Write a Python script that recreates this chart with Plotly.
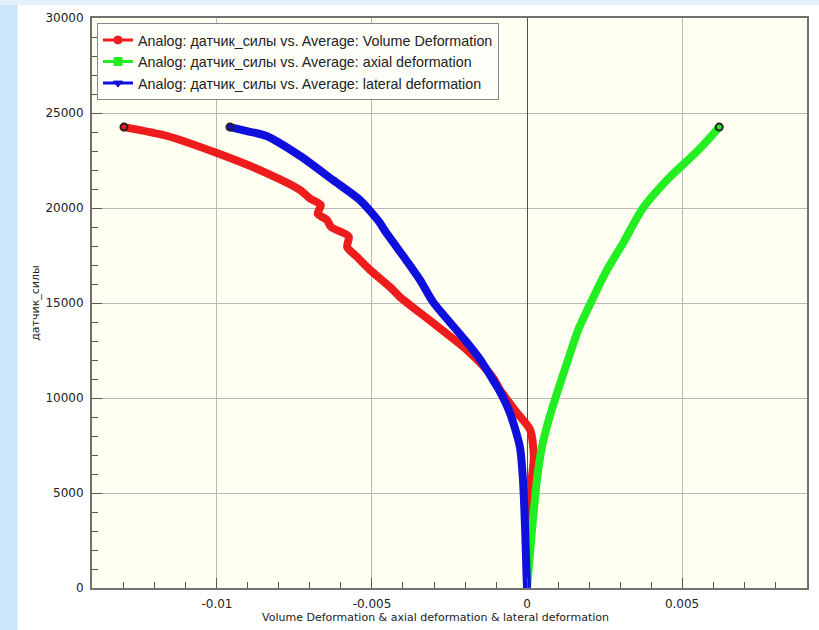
import plotly.graph_objects as go

# Load values (датчик_силы) vs. deformation
vol_y = [0, 3950, 5160, 6900, 8320, 9210, 10420, 10950, 11470, 12530, 13950, 15320, 15840, 16740, 17420, 17950, 18500, 19000, 19370, 19700, 20160, 20500, 20950, 21840, 22890, 23790, 24260]
vol_x = [0.0, 0.0, 0.0001, 0.00022, 0.0001, -0.00032, -0.00087, -0.00105, -0.00129, -0.00194, -0.00303, -0.0041, -0.00442, -0.00506, -0.00548, -0.0058, -0.00575, -0.00632, -0.00645, -0.00675, -0.00665, -0.0070, -0.00732, -0.0084, -0.0100, -0.0116, -0.0130]

ax_y = [0, 3050, 5680, 7420, 8840, 10420, 12000, 13580, 15160, 16740, 18160, 20000, 21630, 23050, 24260]
ax_x = [0.0, 0.00016, 0.00032, 0.00048, 0.00070, 0.00100, 0.00132, 0.00165, 0.0021, 0.00258, 0.0031, 0.00374, 0.00461, 0.00553, 0.0062]

lat_y = [0, 3050, 5680, 7420, 9210, 10420, 10950, 12000, 13050, 15050, 16210, 17260, 18840, 19210, 20420, 21470, 22740, 23790, 24050, 24260]
lat_x = [0.0, -0.00006, -0.00013, -0.00023, -0.00055, -0.0009, -0.0011, -0.0015, -0.0020, -0.00303, -0.00345, -0.0039, -0.0046, -0.00474, -0.00539, -0.00626, -0.00732, -0.0084, -0.00903, -0.00958]

x_ticks = [-0.01, -0.005, 0, 0.005]
x_labels = ["-0.01", "-0.005", "0", "0.005"]
y_ticks = [0, 5000, 10000, 15000, 20000, 25000, 30000]
y_labels = ["0", "5000", "10000", "15000", "20000", "25000", "30000"]
x_title = "Volume Deformation & axial deformation & lateral deformation"
y_title = "датчик_силы"

names = ["Analog: датчик_силы vs. Average: Volume Deformation",
         "Analog: датчик_силы vs. Average: axial deformation",
         "Analog: датчик_силы vs. Average: lateral deformation"]
colors = ["#ee1c1c", "#22ee22", "#1010dd"]
symbols = ["circle", "square", "triangle-down"]
series = [(vol_x, vol_y), (ax_x, ax_y), (lat_x, lat_y)]

fig = go.Figure()
for (xs, ys), c in zip(series, colors):
    fig.add_trace(go.Scatter(x=xs, y=ys, mode="lines", showlegend=False,
                             line=dict(color=c, width=8, shape="spline", smoothing=0.7)))
for (xs, ys), c in zip(series, colors):
    fig.add_trace(go.Scatter(x=[xs[-1]], y=[ys[-1]], mode="markers", showlegend=False,
                             marker=dict(color=c, size=7, line=dict(color="#202020", width=2))))
for n, c, s in zip(names, colors, symbols):
    fig.add_trace(go.Scatter(x=[None], y=[None], mode="lines+markers", name=n,
                             line=dict(color=c, width=3),
                             marker=dict(color=c, symbol=s, size=8, line=dict(color=c, width=1))))

grid = "#b8b8b8"
fig.update_layout(
    width=819, height=630,
    margin=dict(l=92, r=12, t=18, b=42),
    paper_bgcolor="white", plot_bgcolor="#fffff2",
    font=dict(family="DejaVu Sans", size=11, color="#222222"),
    legend=dict(x=0.007, y=0.991, xanchor="left", yanchor="top",
                bgcolor="#fffffa", bordercolor="#888888", borderwidth=1,
                font=dict(family="Liberation Sans", size=14.3, color="#222222"), tracegroupgap=0),
    shapes=[
        dict(type="rect", xref="paper", yref="paper", x0=-0.13, x1=-0.104, y0=-0.08, y1=1.04,
             fillcolor="#cde5fa", line=dict(width=0), layer="below"),
        dict(type="rect", xref="paper", yref="paper", x0=-0.13, x1=1.02, y0=1.023, y1=1.04,
             fillcolor="#e3f0fc", line=dict(width=0), layer="below"),
    ],
    annotations=[
        dict(text=x_title, xref="paper", yref="paper", x=0.48, y=-0.051,
             xanchor="center", yanchor="middle", showarrow=False, font=dict(size=11)),
    ],
)
fig.update_xaxes(
    range=[-0.01403, 0.00903], tickvals=x_ticks, ticktext=x_labels, automargin=False,
    tickfont=dict(size=12), ticklabelstandoff=4,
    showgrid=True, gridcolor=grid, gridwidth=1,
    zeroline=True, zerolinecolor="#505050", zerolinewidth=1,
    showline=True, linecolor="#707070", linewidth=2, mirror=True,
    ticks="inside", ticklen=10, tickcolor="#555555",
    minor=dict(dtick=0.001, tick0=0, ticks="inside", ticklen=6, tickcolor="#555555", showgrid=False),
)
fig.update_yaxes(
    range=[0, 30000], tickvals=y_ticks, ticktext=y_labels, automargin=False,
    tickfont=dict(size=12), ticklabelstandoff=4,
    showgrid=True, gridcolor=grid, gridwidth=1, zeroline=False,
    showline=True, linecolor="#707070", linewidth=2, mirror=True,
    ticks="inside", ticklen=10, tickcolor="#555555",
    minor=dict(dtick=1000, tick0=0, ticks="inside", ticklen=6, tickcolor="#555555", showgrid=False),
    title=dict(text=y_title, standoff=4, font=dict(size=11)),
)
fig.write_html("out.html", config={"displayModeBar": False},
               post_script="document.body.style.margin='0';document.body.style.overflow='hidden';")
